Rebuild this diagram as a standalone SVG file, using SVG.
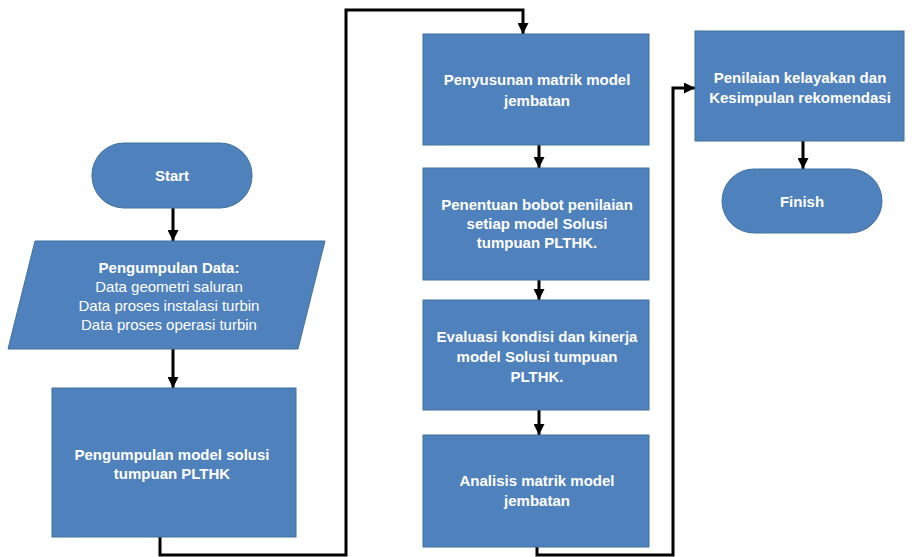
<svg xmlns="http://www.w3.org/2000/svg" width="912" height="557" viewBox="0 0 912 557">
<style>
.n{fill:#4F81BD;stroke:#41719C;stroke-width:1}
.t{font-family:"Liberation Sans",Arial,sans-serif;font-size:15px;fill:#FFFFFF;text-anchor:middle}
.b{font-weight:bold}
.c{fill:none;stroke:#000;stroke-width:3;marker-end:url(#ah)}
</style>
<defs>
<marker id="ah" markerUnits="userSpaceOnUse" viewBox="0 0 10 10" refX="10" refY="5" markerWidth="11" markerHeight="11" orient="auto">
<path d="M0,0 L10,5 L0,10 z" fill="#000"/>
</marker>
</defs>
<rect width="912" height="557" fill="#FFFFFF"/>
<g id="connectors">
<path class="c" d="M173,208 V241"/>
<path class="c" d="M173,349 V388"/>
<path class="c" d="M160,537 V555 H346 V10 H523 V34"/>
<path class="c" d="M539,145 V168"/>
<path class="c" d="M539,280 V300"/>
<path class="c" d="M539,410 V435"/>
<path class="c" d="M537,547 V555 H673 V88 H695"/>
<path class="c" d="M803,141 V169"/>
</g>
<g id="start">
<rect class="n" x="92" y="143" width="160" height="65" rx="32" ry="32"/>
<text class="t b" x="172" y="181">Start</text>
</g>
<g id="data">
<polygon class="n" points="35,241 325,241 298,349 8,349"/>
<text class="t b" x="169" y="273">Pengumpulan Data:</text>
<text class="t" x="169" y="292">Data geometri saluran</text>
<text class="t" x="169" y="311">Data proses instalasi turbin</text>
<text class="t" x="169" y="330">Data proses operasi turbin</text>
</g>
<g id="model">
<rect class="n" x="52" y="388" width="244" height="149"/>
<text class="t b" x="172" y="460">Pengumpulan model solusi</text>
<text class="t b" x="172" y="479">tumpuan PLTHK</text>
</g>
<g id="penyusunan">
<rect class="n" x="423" y="34" width="226" height="111"/>
<text class="t b" x="537" y="85">Penyusunan matrik model</text>
<text class="t b" x="537" y="106">jembatan</text>
</g>
<g id="penentuan">
<rect class="n" x="423" y="168" width="226" height="112"/>
<text class="t b" x="537" y="210">Penentuan bobot penilaian</text>
<text class="t b" x="537" y="229">setiap model Solusi</text>
<text class="t b" x="537" y="248">tumpuan PLTHK.</text>
</g>
<g id="evaluasi">
<rect class="n" x="423" y="300" width="226" height="110"/>
<text class="t b" x="537" y="342">Evaluasi kondisi dan kinerja</text>
<text class="t b" x="537" y="362">model Solusi tumpuan</text>
<text class="t b" x="537" y="382">PLTHK.</text>
</g>
<g id="analisis">
<rect class="n" x="423" y="435" width="226" height="112"/>
<text class="t b" x="537" y="486">Analisis matrik model</text>
<text class="t b" x="537" y="506">jembatan</text>
</g>
<g id="penilaian">
<rect class="n" x="695" y="31" width="209" height="110"/>
<text class="t b" x="800" y="83">Penilaian kelayakan dan</text>
<text class="t b" x="800" y="103">Kesimpulan rekomendasi</text>
</g>
<g id="finish">
<rect class="n" x="722" y="169" width="160" height="64" rx="32" ry="32"/>
<text class="t b" x="802" y="207">Finish</text>
</g>
</svg>
